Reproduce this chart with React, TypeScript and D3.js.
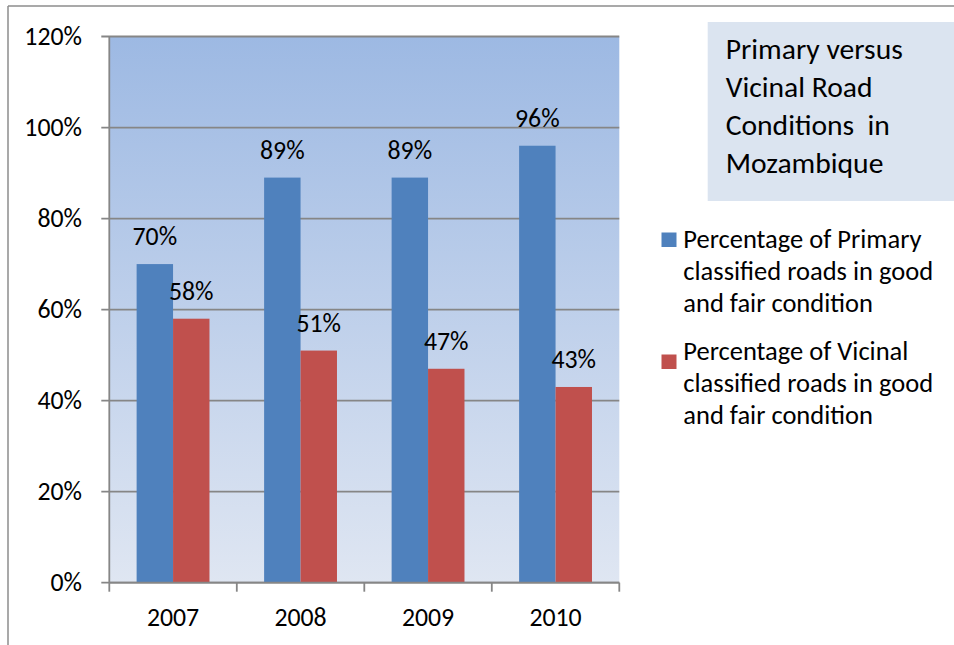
import React from "react";
import * as d3 from "d3";

const years = ["2007", "2008", "2009", "2010"];
const primaryValues = [0.7, 0.89, 0.89, 0.96];
const vicinalValues = [0.58, 0.51, 0.47, 0.43];
const seriesKeys = ["primary", "vicinal"];
const seriesColors = ["#4F81BD", "#C0504D"];
const yTicks = [0, 0.2, 0.4, 0.6, 0.8, 1.0, 1.2];
const titleLines = ["Primary versus", "Vicinal Road", "Conditions  in", "Mozambique"];
const legendLines = [
  ["Percentage of Primary", "classified roads in good", "and fair condition"],
  ["Percentage of Vicinal", "classified roads in good", "and fair condition"],
];

const W = 954;
const H = 645;
const plot = { left: 109.3, right: 619.3, top: 36.5, bottom: 582.7 };
const FONT = "Carlito, Lato, 'Noto Sans', sans-serif";
const AXIS = "#868686";
const LABEL_SIZE = 25.8;

export default function App() {
  const x = d3.scaleBand<string>().domain(years).range([plot.left, plot.right]).paddingInner(0).paddingOuter(0);
  const xs = d3.scaleBand<string>().domain(seriesKeys).range([0, x.bandwidth()]).paddingInner(0).paddingOuter(0.75);
  const y = d3.scaleLinear().domain([0, 1.2]).range([plot.bottom, plot.top]);
  const pct = d3.format(".0%");

  const rows = years.map((yr, i) => ({ yr, vals: [primaryValues[i], vicinalValues[i]] }));

  return (
    <svg width={W} height={H} style={{ position: "absolute", left: 0, top: 0, background: "#fff" }} fontFamily={FONT}>
      <defs>
        <linearGradient id="plotFill" x1="0" y1="0" x2="0" y2="1">
          <stop offset="0" stopColor="#9DB9E3" />
          <stop offset="1" stopColor="#DFE6F2" />
        </linearGradient>
      </defs>

      {/* chart frame */}
      <line x1={8} x2={W} y1={6} y2={6} stroke="#8C8C8C" strokeWidth={1.5} />
      <line x1={8} x2={8} y1={6} y2={H} stroke="#8C8C8C" strokeWidth={1.5} />

      {/* plot area */}
      <rect x={plot.left} y={plot.top} width={plot.right - plot.left} height={plot.bottom - plot.top} fill="url(#plotFill)" />

      {/* gridlines and y ticks */}
      {yTicks.map((t) => (
        <g key={t}>
          <line x1={plot.left - 8} x2={plot.right} y1={y(t)} y2={y(t)} stroke={AXIS} strokeWidth={1.8} />
          <text x={82} y={y(t)} dy="0.34em" textAnchor="end" fontSize={LABEL_SIZE} fill="#000">
            {pct(t)}
          </text>
        </g>
      ))}

      {/* bars */}
      {rows.map((r) => (
        <g key={r.yr} transform={`translate(${x(r.yr)},0)`}>
          {r.vals.map((v, j) => (
            <rect key={j} x={xs(seriesKeys[j])} y={y(v)} width={xs.bandwidth()} height={y(0) - y(v)} fill={seriesColors[j]} />
          ))}
        </g>
      ))}

      {/* data labels */}
      {rows.map((r) => (
        <g key={"l" + r.yr} transform={`translate(${x(r.yr)},0)`}>
          {r.vals.map((v, j) => (
            <text key={j} x={(xs(seriesKeys[j]) as number) + xs.bandwidth() / 2} y={y(v) - 19} textAnchor="middle" fontSize={LABEL_SIZE} fill="#000">
              {pct(v)}
            </text>
          ))}
        </g>
      ))}

      {/* axes */}
      <line x1={plot.left} x2={plot.left} y1={plot.top} y2={plot.bottom} stroke={AXIS} strokeWidth={1.8} />
      <line x1={plot.left} x2={plot.right} y1={plot.bottom} y2={plot.bottom} stroke={AXIS} strokeWidth={1.8} />
      {[...years.map((yr) => x(yr) as number), plot.right].map((px, i) => (
        <line key={i} x1={px} x2={px} y1={plot.bottom} y2={plot.bottom + 9} stroke={AXIS} strokeWidth={1.8} />
      ))}
      {years.map((yr) => (
        <text key={yr} x={(x(yr) as number) + x.bandwidth() / 2} y={626} textAnchor="middle" fontSize={LABEL_SIZE} fill="#000">
          {yr}
        </text>
      ))}

      {/* title box */}
      <rect x={707.7} y={22} width={W - 707.7} height={179} fill="#DBE4F0" />
      {titleLines.map((t, i) => (
        <text key={i} x={725.7} y={59.3 + i * 37.8} fontSize={29.6} fill="#000" style={{ whiteSpace: "pre" }}>
          {t}
        </text>
      ))}

      {/* legend */}
      {legendLines.map((lines, k) => (
        <g key={k}>
          <rect x={661.5} y={232.5 + k * 122} width={15} height={14.5} fill={seriesColors[k]} />
          {lines.map((t, i) => (
            <text key={i} x={683.3} y={247.5 + k * 112 + i * 32} fontSize={26.5} fill="#000">
              {t}
            </text>
          ))}
        </g>
      ))}
    </svg>
  );
}
